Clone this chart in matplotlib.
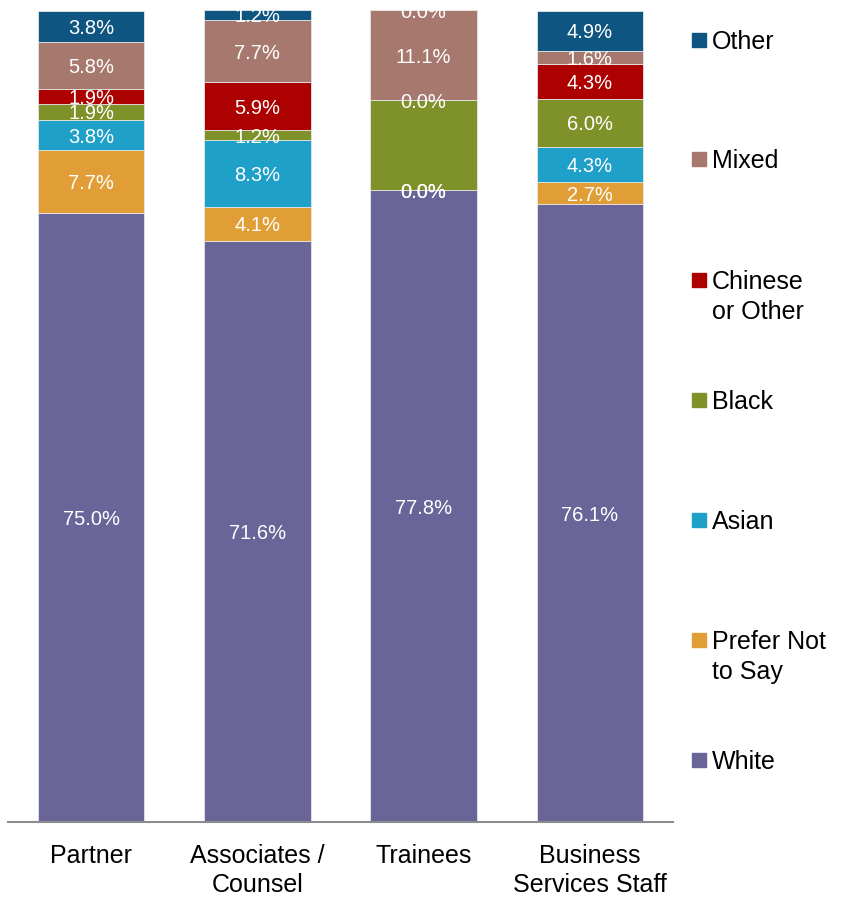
import matplotlib
matplotlib.use("Agg")
import matplotlib.pyplot as plt
from matplotlib.patches import Rectangle
import numpy as np

plt.rcParams['font.family'] = ['Liberation Sans', 'DejaVu Sans']

groups = ["Partner", "Associates /\nCounsel", "Trainees", "Business\nServices Staff"]
series = ["White", "Prefer Not\nto Say", "Asian", "Black", "Chinese\nor Other", "Mixed", "Other"]
white = [75.0, 71.6, 77.8, 76.1]
prefer_not = [7.7, 4.1, 0.0, 2.7]
asian = [3.8, 8.3, 0.0, 4.3]
black = [1.9, 1.2, 11.1, 6.0]
chinese = [1.9, 5.9, 0.0, 4.3]
mixed = [5.8, 7.7, 11.1, 1.6]
other = [3.8, 1.2, 0.0, 4.9]
values = [white, prefer_not, asian, black, chinese, mixed, other]
colors = ["#6A6599", "#E19E36", "#1FA0C9", "#7F9129", "#AD0000", "#A7786D", "#0E5581"]
hidden_labels = {(2, 3)}  # (group index, series index) label not shown in original

W, H = 856, 897
fig = plt.figure(figsize=(W / 100, H / 100), dpi=100)
ax = fig.add_axes([8 / W, (H - 822) / H, (673 - 8) / W, (822 - 10) / H])

x = np.arange(len(groups))
bottom = np.zeros(len(groups))
for si, (vals, col) in enumerate(zip(values, colors)):
    vals = np.array(vals)
    ax.bar(x, vals, width=0.64, bottom=bottom, color=col,
           edgecolor="#e6e6e6", linewidth=0.6)
    for gi in range(len(groups)):
        if (gi, si) in hidden_labels:
            continue
        yc = bottom[gi] + vals[gi] / 2
        ax.text(x[gi], yc, f"{vals[gi]:.1f}%", ha="center", va="center_baseline",
                color="white", fontsize=14.5, clip_on=False)
    bottom += vals

fs = 18
lsp = 1.27
ax.set_xlim(-0.5, 3.5)
ax.set_ylim(0, 100)
ax.set_yticks([])
ax.set_xticks(x)
ax.set_xticklabels(groups, fontsize=fs, linespacing=lsp)
ax.tick_params(axis="x", length=0, pad=16)
for s in ["top", "right", "left"]:
    ax.spines[s].set_visible(False)
ax.spines["bottom"].set_color("#8c8c8c")
ax.spines["bottom"].set_linewidth(1.5)

# legend (top to bottom: reversed series order)
leg_y = [760, 640, 520, 400, 280, 159, 40]
em = fs * 100 / 72
line_px = 30
for si in range(len(series)):
    yc = leg_y[si]
    nl = series[si].count("\n")
    fig.add_artist(Rectangle((692 / W, (H - yc - 7) / H), 14 / W, 14 / H,
                             transform=fig.transFigure, color=colors[si]))
    fig.text(712 / W, (H - yc - 0.358 * em - line_px * nl) / H, series[si], fontsize=fs,
             ha="left", va="baseline", linespacing=1.33, color="black")

fig.savefig("out.png", dpi=100)
